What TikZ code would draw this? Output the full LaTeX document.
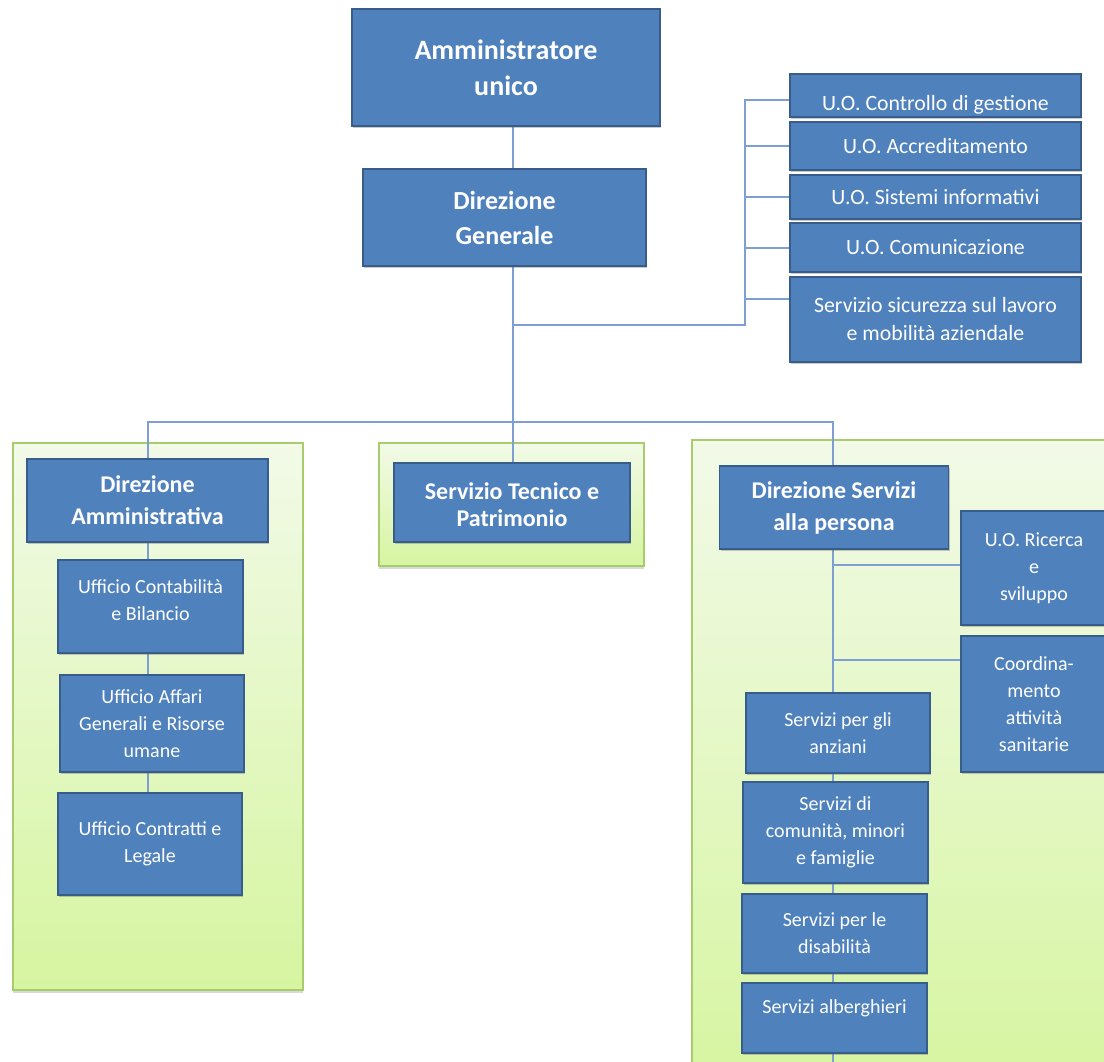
\documentclass[tikz,border=0pt]{standalone}
\usepackage{fontspec}
\setmainfont{Carlito}
\usetikzlibrary{shadows}
\definecolor{boxblue}{HTML}{4F81BD}
\definecolor{boxedge}{HTML}{385D8A}
\definecolor{connc}{HTML}{7F9ED2}
\definecolor{gtop}{HTML}{F2FAE8}
\definecolor{gbot}{HTML}{D6F5A0}
\definecolor{gedge}{HTML}{A8CC6C}
\pgfdeclarelayer{panels}
\pgfdeclarelayer{links}
\pgfsetlayers{panels,links,main}
\begin{document}
\begin{tikzpicture}[x=1pt,y=-1pt,
  box/.style={draw=boxedge, line width=1.8pt, fill=boxblue, text=white, align=center, inner sep=0pt,
    drop shadow={shadow xshift=1pt, shadow yshift=-2pt, opacity=0.35, fill=black!60}},
  big/.style={font=\fontsize{26}{35}\selectfont\bfseries},
  mid/.style={font=\fontsize{24}{32}\selectfont\bfseries},
  lst/.style={font=\fontsize{21.8}{28}\selectfont},
  sml/.style={font=\fontsize{20}{27}\selectfont},
  panel/.style={draw=gedge, line width=1.5pt, top color=gtop, bottom color=gbot, inner sep=0pt,
    drop shadow={shadow xshift=0pt, shadow yshift=-3pt, opacity=0.3, fill=black!50}},
  link/.style={draw=connc, line width=2pt}
]
\useasboundingbox (0,0) rectangle (1104,1062);
\clip (0,0) rectangle (1104,1062);

% panels
\begin{pgfonlayer}{panels}
\node[panel, minimum width=290pt, minimum height=547pt] (pl) at (158,716.5) {};
\node[panel, minimum width=265pt, minimum height=123pt] (pm) at (511.5,504.5) {};
\node[panel, minimum width=430pt, minimum height=650pt] (pr) at (907,765) {};
\end{pgfonlayer}

% top
\node[box, big, font=\fontsize{28}{36}\selectfont\bfseries, minimum width=308pt, minimum height=117pt] (amm) at (506,67.5) {Amministratore\\unico};
\node[box, big, minimum width=283pt, minimum height=97pt] (dg) at (504.5,217.5) {Direzione\\Generale};

% staff list
\node[box, lst, minimum width=291pt, minimum height=43pt] (r1) at (935.5,95.5) {\raisebox{-7pt}[\height][0pt]{U.O. Controllo di gestione}};
\node[box, lst, minimum width=291pt, minimum height=48pt] (r2) at (935.5,146) {U.O. Accreditamento};
\node[box, lst, minimum width=291pt, minimum height=44pt] (r3) at (935.5,197) {U.O. Sistemi informativi};
\node[box, lst, minimum width=291pt, minimum height=49pt] (r4) at (935.5,247.5) {U.O. Comunicazione};
\node[box, lst, minimum width=291pt, minimum height=85pt] (r5) at (935.5,319.5) {Servizio sicurezza sul lavoro\\e mobilità aziendale};

% left panel
\node[box, mid, minimum width=241pt, minimum height=83pt] (da) at (147.5,500.5) {Direzione\\Amministrativa};
\node[box, sml, minimum width=185pt, minimum height=93pt] (uc) at (150.5,606.5) {Ufficio Contabilità\\e Bilancio\\[-14pt]\mbox{}};
\node[box, sml, minimum width=184pt, minimum height=97pt] (ua) at (152,723.5) {Ufficio Affari\\Generali e Risorse\\umane};
\node[box, sml, minimum width=184pt, minimum height=102pt] (uct) at (150,844) {Ufficio Contratti e\\Legale};

% middle panel
\node[box, mid, minimum width=236pt, minimum height=79pt] (st) at (512,502.5) {\raisebox{-5pt}[\height][0pt]{Servizio Tecnico e}\\Patrimonio};

% right panel
\node[box, mid, minimum width=229pt, minimum height=83pt] (dsp) at (834,507.5) {Direzione Servizi\\alla persona};
\node[box, sml, minimum width=146pt, minimum height=114pt] (ric) at (1034,568) {U.O. Ricerca\\e\\sviluppo};
\node[box, sml, minimum width=146pt, minimum height=136pt] (coo) at (1034,704) {Coordina-\\mento\\attività\\sanitarie};
\node[box, sml, minimum width=184pt, minimum height=80pt] (ang) at (838,733) {Servizi per gli\\anziani};
\node[box, sml, minimum width=185pt, minimum height=101pt] (com) at (835.5,832.5) {Servizi di\\comunità, minori\\e famiglie};
\node[box, sml, minimum width=185pt, minimum height=79pt] (dis) at (834.5,933.5) {Servizi per le\\disabilità};
\node[box, sml, minimum width=185pt, minimum height=70pt] (alb) at (834.5,1018) {Servizi alberghieri\\[-4pt]\mbox{}};

% connector helpers
\coordinate (sbar) at (513,325);
\coordinate (bus) at (745,325);
\coordinate (bend) at (833,1075);
\coordinate (b1) at (745,100);
\coordinate (b5) at (745,299);

\begin{pgfonlayer}{links}
\draw[link] (amm.south -| 513,0) -- (dg.south -| 513,0);
\draw[link] (513,266) -- (st.north -| 513,0);
\draw[link] (sbar) -- (bus) -- (b1) -- (b1 -| r1.west);
\draw[link] (r2.west) -- (r2.west -| bus);
\draw[link] (r3.west) -- (r3.west -| bus);
\draw[link] (r4.west) -- (r4.west -| bus);
\draw[link] (b5) -- (b5 -| r5.west);
\draw[link] (148,459) -- (148,422) -- (833,422) -- (833,467);
\draw[link] (148,542) -- (148,895);
\draw[link] (833,549) -- (bend);
\draw[link] (833,565) -- (833,565 -| ric.west);
\draw[link] (833,660) -- (833,660 -| coo.west);
\end{pgfonlayer}
\end{tikzpicture}
\end{document}
